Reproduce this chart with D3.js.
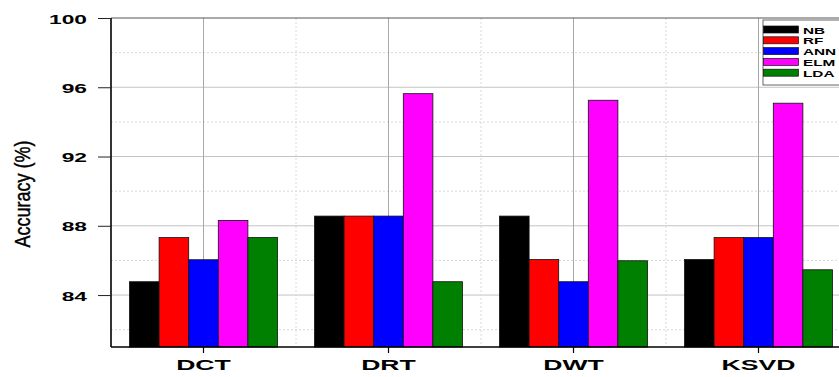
<!DOCTYPE html>
<html>
<head>
<meta charset="utf-8">
<script src="https://cdn.jsdelivr.net/npm/d3@7"></script>
<style>
  html, body { margin: 0; padding: 0; background: #fff; }
  svg { display: block; }
  text { font-family: "Liberation Sans", Arial, sans-serif; }
</style>
</head>
<body>
<svg id="chart" width="839" height="377"></svg>
<script>
// Classification accuracy (%) per feature extraction method and classifier
const categories = ["DCT", "DRT", "DWT", "KSVD"];
const series = ["NB", "RF", "ANN", "ELM", "LDA"];
const colors = ["#000000", "#ff0000", "#0000ff", "#ff00ff", "#008000"];
const valuesNB  = [84.77, 88.56, 88.56, 86.05];
const valuesRF  = [87.32, 88.56, 86.05, 87.32];
const valuesANN = [86.04, 88.56, 84.77, 87.32];
const valuesELM = [88.31, 95.63, 95.25, 95.08];
const valuesLDA = [87.32, 84.77, 85.98, 85.46];
const yTicks = [84, 88, 92, 96, 100];
const yMinor = [82, 86, 90, 94, 98];
const yTitle = "Accuracy (%)";

const seriesValues = [valuesNB, valuesRF, valuesANN, valuesELM, valuesLDA];
const rows = categories.map((c, i) => ({
  cat: c,
  vals: series.map((s, j) => ({ key: s, value: seriesValues[j][i], color: colors[j] }))
}));

const svg = d3.select("#chart");
const plotLeft = 111, plotRight = 851, plotTop = 18, plotBottom = 347;
const stretch = 1.9; // wide lettering of the labels

const x0 = d3.scaleBand().domain(categories).range([plotLeft, plotRight]).padding(0);
const x1 = d3.scaleBand().domain(series).range([-74, 74]).padding(0);
const y = d3.scaleLinear().domain([81, 100]).range([plotBottom, plotTop]);

// grid
const grid = svg.append("g");
grid.selectAll("line.minorY").data(yMinor).join("line")
  .attr("x1", plotLeft).attr("x2", plotRight)
  .attr("y1", d => y(d)).attr("y2", d => y(d))
  .attr("stroke", "#d8d8d8").attr("stroke-width", 1).attr("stroke-dasharray", "2,2");
grid.selectAll("line.majorY").data(yTicks.filter(d => d < 100)).join("line")
  .attr("x1", plotLeft).attr("x2", plotRight)
  .attr("y1", d => y(d)).attr("y2", d => y(d))
  .attr("stroke", "#c4c4c4").attr("stroke-width", 1);
grid.selectAll("line.minorX").data(categories.slice(1)).join("line")
  .attr("x1", d => x0(d)).attr("x2", d => x0(d))
  .attr("y1", plotTop).attr("y2", plotBottom)
  .attr("stroke", "#d8d8d8").attr("stroke-width", 1).attr("stroke-dasharray", "2,2");
grid.selectAll("line.majorX").data(categories).join("line")
  .attr("x1", d => x0(d) + x0.bandwidth() / 2).attr("x2", d => x0(d) + x0.bandwidth() / 2)
  .attr("y1", plotTop).attr("y2", plotBottom)
  .attr("stroke", "#a8a8a8").attr("stroke-width", 1);

// bars
const groups = svg.append("g").selectAll("g").data(rows).join("g")
  .attr("transform", d => `translate(${x0(d.cat) + x0.bandwidth() / 2},0)`);
groups.selectAll("rect").data(d => d.vals).join("rect")
  .attr("x", d => x1(d.key))
  .attr("width", x1.bandwidth())
  .attr("y", d => y(d.value))
  .attr("height", d => y(81) - y(d.value))
  .attr("fill", d => d.color)
  .attr("stroke", "#111").attr("stroke-width", 0.8);

// frame top
svg.append("line").attr("x1", plotLeft).attr("x2", plotRight).attr("y1", plotTop).attr("y2", plotTop)
  .attr("stroke", "#555").attr("stroke-width", 1);

// y axis
const yAxis = svg.append("g").attr("transform", `translate(${plotLeft},0)`)
  .call(d3.axisLeft(y).tickValues(yTicks).tickSize(13).tickFormat(d3.format("d")));
yAxis.select(".domain").attr("stroke", "#000").attr("stroke-width", 1.6)
  .attr("d", `M0,${plotTop}V${plotBottom}`);
yAxis.selectAll(".tick line").attr("stroke", "#222").attr("stroke-width", 1);
yAxis.selectAll(".tick text")
  .attr("x", null).attr("dy", null).attr("text-anchor", "end")
  .attr("transform", `translate(-24,5) scale(${stretch},1)`)
  .attr("font-size", 12).attr("font-weight", "bold").attr("fill", "#000")
  .style("font-family", "'Liberation Sans', Arial, sans-serif");

// x axis
const xAxis = svg.append("g").attr("transform", `translate(0,${plotBottom})`)
  .call(d3.axisBottom(x0).tickSize(6).tickPadding(0));
xAxis.select(".domain").attr("stroke", "#000").attr("stroke-width", 1.6)
  .attr("d", `M${plotLeft},0H${plotRight}`);
xAxis.selectAll(".tick line").attr("stroke", "#000").attr("stroke-width", 1.2);
xAxis.selectAll(".tick text")
  .attr("y", null).attr("dy", null).attr("text-anchor", "middle")
  .attr("transform", `translate(0,23) scale(${stretch},1)`)
  .attr("font-size", 14).attr("font-weight", "bold").attr("fill", "#000")
  .style("font-family", "'Liberation Sans', Arial, sans-serif");

// y title, with tall narrow lettering
svg.append("text")
  .attr("transform", `translate(30,194) rotate(-90) scale(1,1.2)`)
  .attr("text-anchor", "middle")
  .attr("font-size", 18).attr("fill", "#000")
  .attr("stroke", "#000").attr("stroke-width", 0.35)
  .text(yTitle);

// legend
const lg = svg.append("g").attr("transform", "translate(763,20)");
lg.append("rect").attr("x", 0).attr("y", 0).attr("width", 100).attr("height", 65)
  .attr("fill", "#fff").attr("stroke", "#666").attr("stroke-width", 1);
const items = lg.selectAll("g.item").data(series).join("g")
  .attr("transform", (d, i) => `translate(0,${6 + i * 10.8})`);
items.append("rect").attr("x", 0.5).attr("width", 35).attr("height", 7)
  .attr("fill", (d, i) => colors[i]).attr("stroke", "#111").attr("stroke-width", 0.7);
items.append("text")
  .attr("transform", `translate(40,7.5) scale(1.7,1)`)
  .attr("font-size", 9).attr("font-weight", "bold").attr("fill", "#000")
  .text(d => d);
</script>
</body>
</html>
